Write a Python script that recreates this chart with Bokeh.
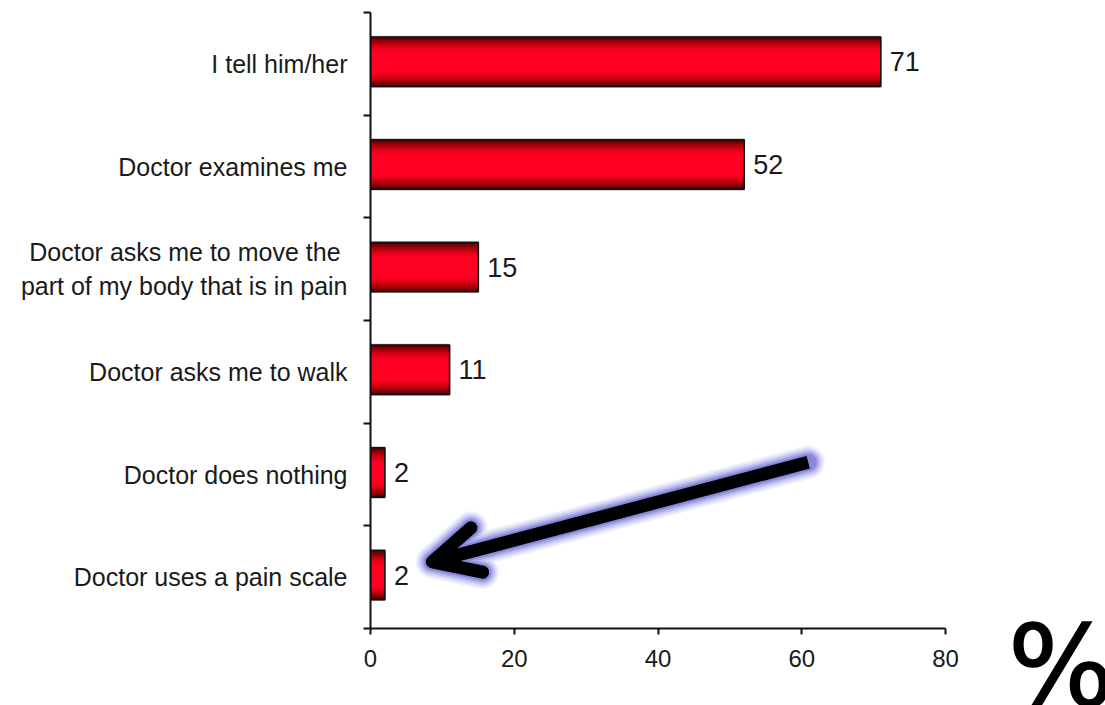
from bokeh.plotting import figure
from bokeh.layouts import row
from bokeh.models import Range1d, FixedTicker, Arrow, OpenHead, ColumnDataSource, Div
from bokeh.core.properties import value
from bokeh.embed import file_html
from bokeh.resources import INLINE

categories = [
    "I tell him/her",
    "Doctor examines me",
    "Doctor asks me to move the\u00a0\npart of my body that is in pain",
    "Doctor asks me to walk",
    "Doctor does nothing",
    "Doctor uses a pain scale",
]
values = [71, 52, 15, 11, 2, 2]
x_ticks = [0, 20, 40, 60, 80]
unit_text = "%"

# arrow pointing at the last category's value label (data coords)
arrow_tail = (60.9, 4.38)
arrow_head = (8.6, 5.35)

FONT = "Liberation Sans"
n = len(categories)
ypos = [i + 0.5 for i in range(n)]
bar_y = [y - 0.02 for y in ypos]
src = ColumnDataSource(dict(y=bar_y, v=values, lab=[str(v) for v in values]))

p = figure(width=1000, height=700, x_range=Range1d(0, 80), y_range=Range1d(n, 0),
           output_backend="svg", toolbar_location=None,
           min_border_left=370, min_border_right=55, min_border_top=12, min_border_bottom=72)
p.outline_line_color = None
p.grid.visible = False

H = 0.48
# gradient-like bars: nested layers from dark edge to bright core
layers = [(0.00, "#560000"), (0.06, "#700003"), (0.12, "#8c0008"), (0.19, "#a9000d"),
          (0.27, "#c60012"), (0.36, "#df0018"), (0.46, "#f3001d"), (0.58, "#ff0022")]
p.hbar(y="y", left=0, right="v", height=H + 0.012, source=src,
       fill_alpha=0, line_color="#b0b0b0", line_width=1.5)
for d, c in layers:
    p.hbar(y="y", left=0, right="v", height=H * (1 - d), source=src,
           fill_color=c, line_color=None)
p.hbar(y="y", left=0, right="v", height=H, source=src,
       fill_alpha=0, line_color="#111111", line_width=1.6)

p.text(x="v", y="y", text="lab", source=src, x_offset=9, text_baseline="middle",
       text_align="left", text_font=value(FONT), text_font_size="27px", text_color="#1a1a1a")

# arrow with glow
for w, col in [(33, "#efeffc"), (29, "#dcdcf7"), (25, "#c4c4f1"), (21, "#a6a6e7"), (17, "#8888db")]:
    p.add_layout(Arrow(x_start=arrow_tail[0], y_start=arrow_tail[1],
                       x_end=arrow_head[0], y_end=arrow_head[1],
                       line_width=w, line_color=col, line_cap="round", line_join="round",
                       end=OpenHead(size=46, line_width=w, line_color=col,
                                    line_cap="round", line_join="round")))
p.add_layout(Arrow(x_start=arrow_tail[0], y_start=arrow_tail[1],
                   x_end=arrow_head[0], y_end=arrow_head[1],
                   line_width=13, line_color="black", line_cap="butt", line_join="round",
                   end=OpenHead(size=46, line_width=13, line_color="black",
                                line_cap="round", line_join="round")))

# x axis
xa = p.xaxis[0]
xa.ticker = FixedTicker(ticks=x_ticks)
xa.axis_line_width = 2
xa.axis_line_color = "#111111"
xa.major_tick_line_width = 2
xa.major_tick_line_color = "#111111"
xa.major_tick_in = 0
xa.major_tick_out = 6
xa.minor_tick_line_color = None
xa.major_label_text_font = FONT
xa.major_label_text_font_size = "24px"
xa.major_label_text_color = "#1a1a1a"
xa.major_label_standoff = 15

# y axis: labels at band centres, tick marks at band boundaries
ya = p.yaxis[0]
ya.ticker = FixedTicker(ticks=ypos, minor_ticks=list(range(n + 1)))
ya.major_label_overrides = {y: c for y, c in zip(ypos, categories)}
ya.axis_line_width = 2
ya.axis_line_color = "#111111"
ya.major_tick_line_color = None
ya.major_tick_in = 0
ya.major_tick_out = 0
ya.minor_tick_line_width = 2
ya.minor_tick_line_color = "#111111"
ya.minor_tick_in = 0
ya.minor_tick_out = 7
ya.major_label_text_font = FONT
ya.major_label_text_font_size = "25px"
ya.major_label_text_color = "#1a1a1a"
ya.major_label_standoff = 16

# unit sign at the bottom right
unit = Div(
    text=('<div style="position:relative;left:3px;top:605px;font-family:\'DejaVu Sans\';'
          'font-size:112px;line-height:1;color:black;-webkit-text-stroke:1.6px black;'
          'white-space:nowrap;margin:0;padding:0">' + unit_text + '</div>'),
    width=100, height=700, styles={"overflow": "hidden"})

open("out.html", "w").write(file_html(row(p, unit), INLINE))
